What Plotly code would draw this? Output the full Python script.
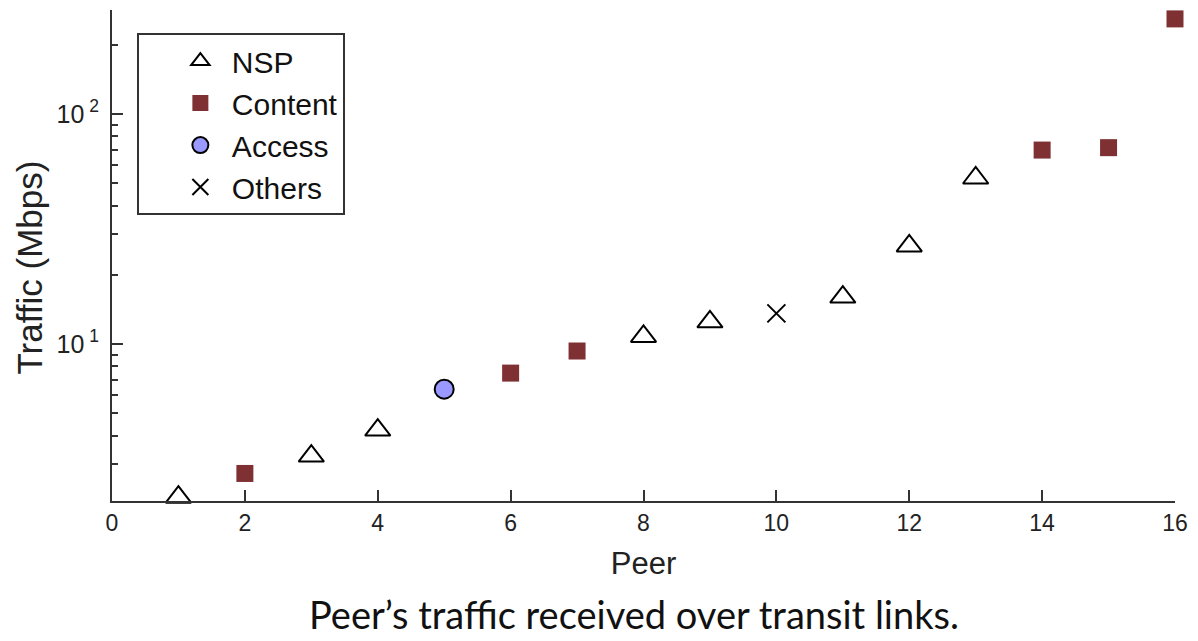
import plotly.graph_objects as go

peers = list(range(1, 17))
categories = ["NSP", "Content", "NSP", "NSP", "Access", "Content", "Content", "NSP",
              "NSP", "Others", "NSP", "NSP", "NSP", "Content", "Content", "Content"]
traffic = [2.16, 2.74, 3.26, 4.23, 6.37, 7.48, 9.33, 10.8,
           12.5, 13.6, 16.0, 26.7, 52.7, 69.7, 71.4, 259]

x_ticks = [0, 2, 4, 6, 8, 10, 12, 14, 16]
y_ticks = [10, 100]
y_ticktext = ["10<sup> 1</sup>", "10<sup> 2</sup>"]
y_minor = [3, 4, 5, 6, 7, 8, 9, 20, 30, 40, 50, 60, 70, 80, 90, 200]

styles = {
    "NSP": dict(symbol="triangle-up-open", size=22, color="black", line=dict(color="black", width=2)),
    "Content": dict(symbol="square", size=17, color="#7e3033", line=dict(width=0)),
    "Access": dict(symbol="circle", size=19, color="#9999ff", line=dict(color="black", width=2)),
    "Others": dict(symbol="x-thin-open", size=18, color="black", line=dict(color="black", width=2)),
}

fig = go.Figure()
for cat in ["NSP", "Content", "Access", "Others"]:
    xs = [p for p, c in zip(peers, categories) if c == cat]
    ys = [t for t, c in zip(traffic, categories) if c == cat]
    fig.add_trace(go.Scatter(x=xs, y=ys, mode="markers", name=cat,
                             marker=styles[cat], cliponaxis=False))

sans = "Liberation Sans, Arial, Helvetica, sans-serif"
fig.update_layout(
    width=1198, height=641,
    margin=dict(l=112, r=17, t=10, b=140),
    plot_bgcolor="white", paper_bgcolor="white",
    font=dict(family=sans, color="#222"),
    xaxis=dict(range=[0, 16], tickvals=x_ticks, ticks="inside", ticklen=11, tickwidth=2,
               tickcolor="#333", showline=True, linecolor="#333", linewidth=2,
               showgrid=False, zeroline=False, tickfont=dict(family=sans, size=23, color="#222"),
               title=dict(text="Peer", font=dict(family=sans, size=31, color="#222"), standoff=18)),
    yaxis=dict(type="log", range=[0.318, 2.452], tickvals=y_ticks, ticktext=y_ticktext,
               ticks="inside", ticklen=11, tickwidth=2, tickcolor="#333",
               minor=dict(tickvals=y_minor, ticks="inside", ticklen=6, tickwidth=2, tickcolor="#333", showgrid=False),
               showline=True, linecolor="#333", linewidth=2, showgrid=False, zeroline=False,
               ticklabelstandoff=6,
               tickfont=dict(family=sans, size=25, color="#222")),
    legend=dict(x=0.0234, y=0.953, xanchor="left", yanchor="top",
                bordercolor="#333", borderwidth=2, bgcolor="white",
                indentation=30, itemwidth=53, entrywidth=205,
                font=dict(family=sans, size=30, color="#111")),
    annotations=[
        dict(text="Traffic (Mbps)", xref="paper", yref="paper", x=-0.0767, y=0.4766,
             xanchor="center", yanchor="middle", textangle=-90, showarrow=False,
             font=dict(family=sans, size=35, color="#222")),
        dict(text="Peer\u2019s traffic received over transit links.",
             xref="paper", yref="paper", x=0.4906, y=-0.230, xanchor="center", yanchor="middle",
             showarrow=False, font=dict(family="Lato, Open Sans, sans-serif", size=38, color="#111")),
    ],
)

fig.write_html("out.html")
